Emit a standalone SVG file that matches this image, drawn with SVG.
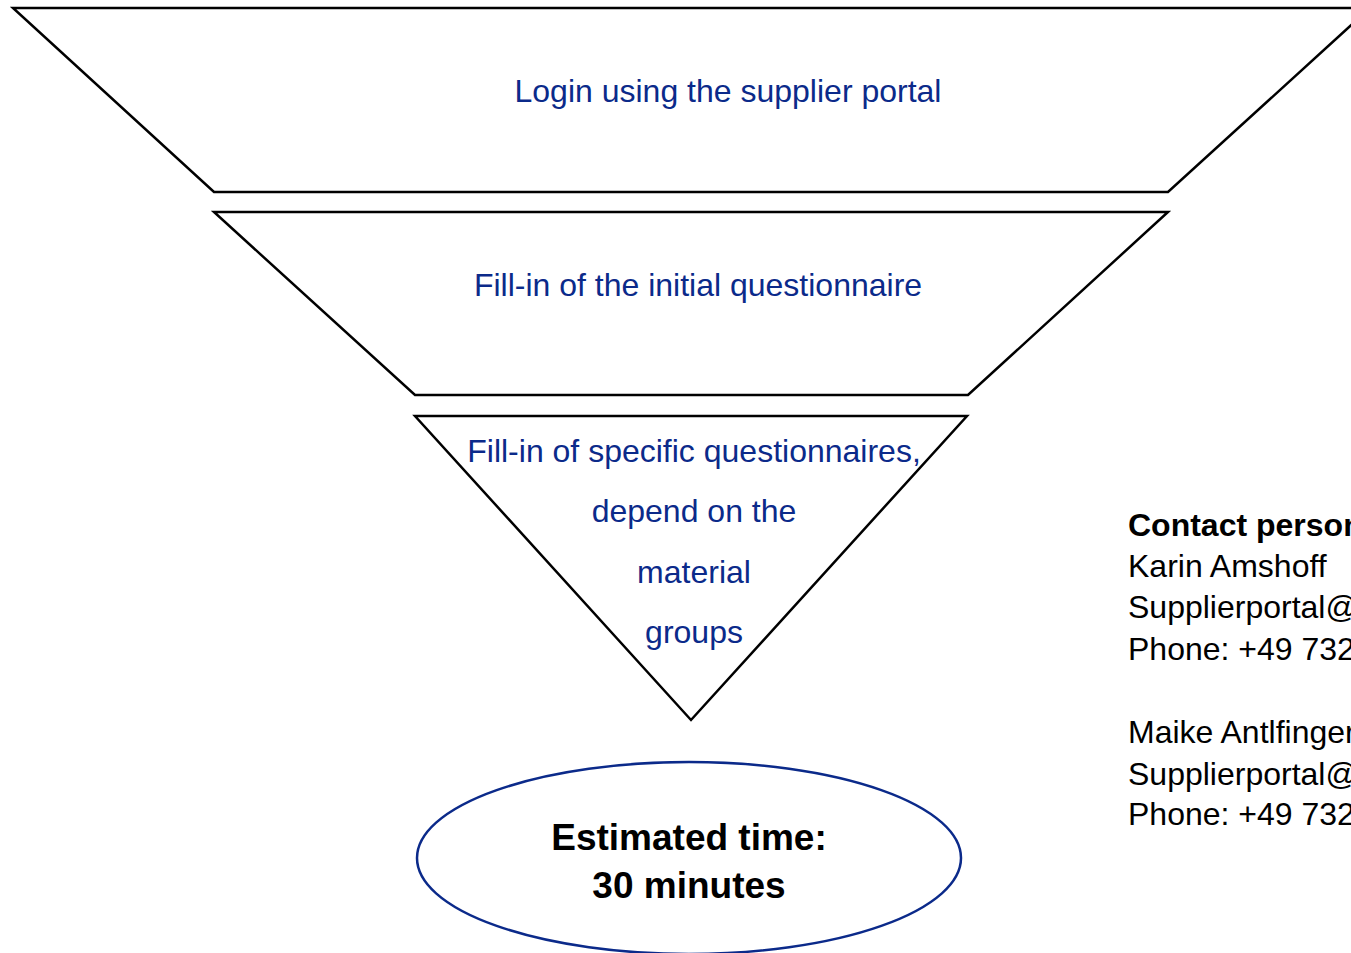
<svg xmlns="http://www.w3.org/2000/svg" width="1351" height="953" viewBox="0 0 1351 953">
<style>
.shape{fill:#fff;stroke:#000;stroke-width:2.5;stroke-linejoin:miter}
.lbl{font-family:"Liberation Sans",Arial,sans-serif;font-size:32px;fill:#0b2a8a;text-anchor:middle}
.bold{font-family:"Liberation Sans",Arial,sans-serif;font-size:37px;font-weight:bold;fill:#000;text-anchor:middle}
.contact{font-family:"Liberation Sans",Arial,sans-serif;font-size:32px;fill:#000}
</style>
<rect width="1351" height="953" fill="#fff"/>
<g id="step1">
<polygon class="shape" points="13,8 1370,8 1168,192 214,192"/>
<text class="lbl" x="728" y="102">Login using the supplier portal</text>
</g>
<g id="step2">
<polygon class="shape" points="214,212 1168,212 968,395 415,395"/>
<text class="lbl" x="698" y="296">Fill-in of the initial questionnaire</text>
</g>
<g id="step3">
<polygon class="shape" points="415,416 967,416 691,720"/>
<text class="lbl" x="694" y="462">Fill-in of specific questionnaires,</text>
<text class="lbl" x="694" y="522">depend on the</text>
<text class="lbl" x="694" y="583">material</text>
<text class="lbl" x="694" y="643">groups</text>
</g>
<g id="estimate">
<ellipse cx="689" cy="858" rx="272" ry="96" fill="#fff" stroke="#0b2a8a" stroke-width="2.5"/>
<text class="bold" x="689" y="850">Estimated time:</text>
<text class="bold" x="689" y="898">30 minutes</text>
</g>
<g id="contacts">
<text class="contact" x="1128" y="536" font-weight="bold">Contact person</text>
<text class="contact" x="1128" y="577">Karin Amshoff</text>
<text class="contact" x="1128" y="618">Supplierportal@</text>
<text class="contact" x="1128" y="660">Phone: +49 732</text>
<text class="contact" x="1128" y="743">Maike Antlfinger</text>
<text class="contact" x="1128" y="785">Supplierportal@</text>
<text class="contact" x="1128" y="825">Phone: +49 732</text>
</g>
<g id="connectors"/>
</svg>
